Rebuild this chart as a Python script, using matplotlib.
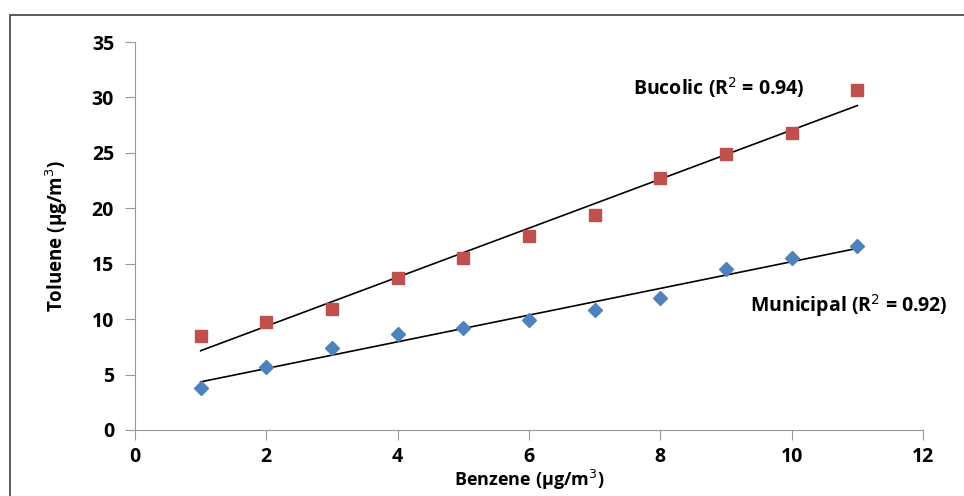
import numpy as np
import matplotlib
matplotlib.use("Agg")
import matplotlib.pyplot as plt
from matplotlib.patches import Rectangle

plt.rcParams['font.family'] = ['Open Sans', 'DejaVu Sans']

benzene = [1, 2, 3, 4, 5, 6, 7, 8, 9, 10, 11]
bucolic = [8.5, 9.7, 10.9, 13.7, 15.5, 17.5, 19.4, 22.7, 24.9, 26.8, 30.7]
municipal = [3.8, 5.7, 7.4, 8.7, 9.2, 9.9, 10.8, 11.9, 14.5, 15.5, 16.6]

fig = plt.figure(figsize=(9.64, 4.96), dpi=100)
ax = fig.add_axes([0.14, 0.1331, 0.8175, 0.7822])

# outer frame (cropped on right and bottom)
fig.patches.append(Rectangle((10 / 964, -0.1), 1.2, 1 - 15 / 496 + 0.1,
                             transform=fig.transFigure, fill=False,
                             edgecolor="#404040", linewidth=1.2))

x = np.array(benzene)
for y, color, marker, size in [(bucolic, "#c0504d", "s", 9), (municipal, "#4f81bd", "D", 7)]:
    ax.plot(x, y, linestyle="none", marker=marker, color=color, markersize=size, zorder=3)
    k, b = np.polyfit(x, y, 1)
    ax.plot([x[0], x[-1]], [k * x[0] + b, k * x[-1] + b], color="black", linewidth=1.2, zorder=2)

ax.text(7.58, 30.2, "Bucolic (R$^2$ = 0.94)", fontsize=14, fontweight="bold")
ax.text(9.36, 10.7, "Municipal (R$^2$ = 0.92)", fontsize=14, fontweight="bold")

ax.set_xlim(0, 12)
ax.set_ylim(0, 35)
ax.set_xticks(range(0, 13, 2))
ax.set_yticks(range(0, 36, 5))
for s in ["top", "right"]:
    ax.spines[s].set_visible(False)
for s in ["left", "bottom"]:
    ax.spines[s].set_color("#999999")
ax.tick_params(colors="#999999", labelcolor="black", labelsize=14, length=7, direction="out")
ax.tick_params(axis="x", pad=5)
ax.tick_params(axis="y", pad=8)
for lbl in ax.get_xticklabels() + ax.get_yticklabels():
    lbl.set_fontweight("bold")
ax.set_xlabel("Benzene (µg/m$^3$)", fontsize=13, fontweight="bold", labelpad=1)
ax.set_ylabel("Toluene (µg/m$^3$)", fontsize=13.5, fontweight="bold", labelpad=16)

fig.savefig("out.png", dpi=100)
